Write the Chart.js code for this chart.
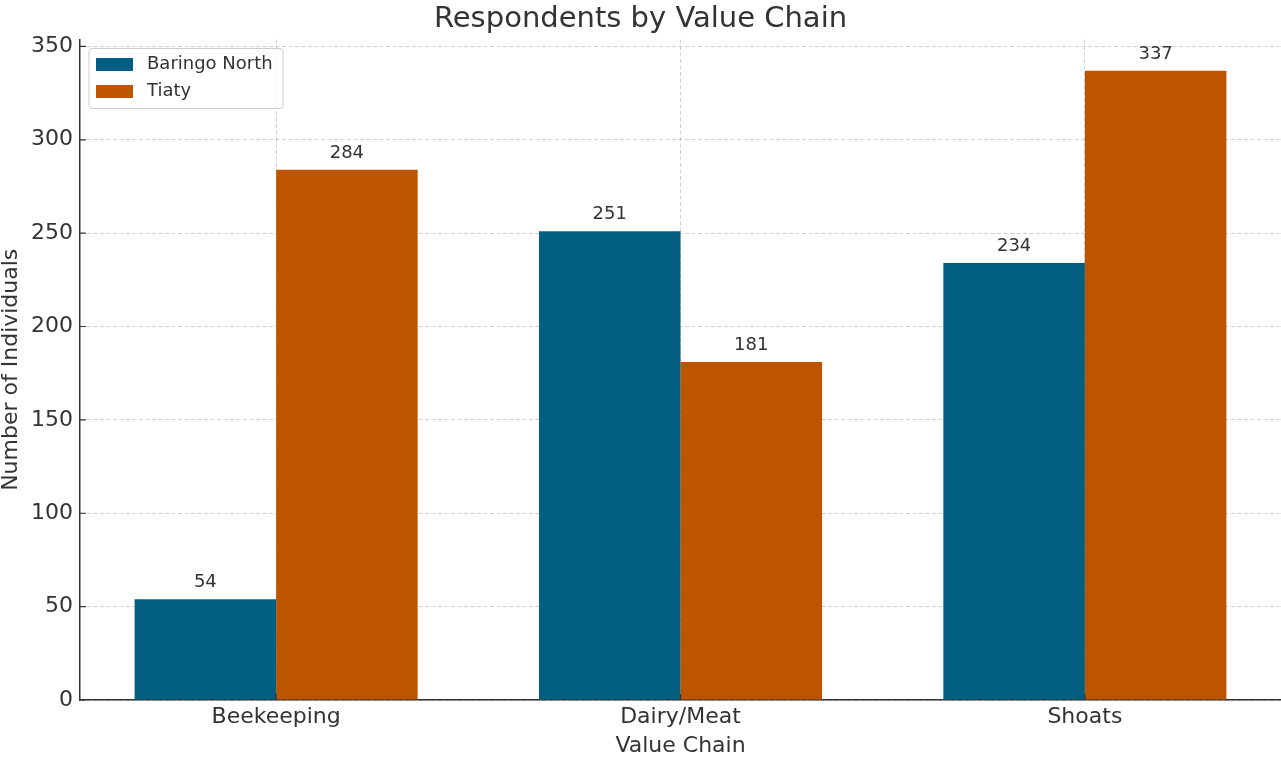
<!DOCTYPE html>
<html>
<head>
<meta charset="utf-8">
<script src="https://cdn.jsdelivr.net/npm/chart.js@4.4.1/dist/chart.umd.min.js"></script>
<style>
	html, body { margin: 0; padding: 0; background: #fff; }
	#wrap { width: 1281px; height: 759px; }
</style>
</head>
<body>
<div id="wrap"><canvas id="barChart" width="1281" height="759"></canvas></div>
<script>
var categories = ['Beekeeping', 'Dairy/Meat', 'Shoats']
var baringoNorth = [54, 251, 234]
var tiaty = [284, 181, 337]
var yTicks = [0, 50, 100, 150, 200, 250, 300, 350]

var blue = '#035F82'
var orange = '#BD5500'
var textColor = '#333333'
var font = 'DejaVu Sans'

const toPoints = function(values){
	return values.map((v, i) => ({x: i, y: v}))
}

// value printed above every bar
const barLabels = {
	id: 'barLabels',
	afterDatasetsDraw(chart){
		var ctx = chart.ctx
		ctx.save()
		ctx.font = '18px "' + font + '"'
		ctx.fillStyle = textColor
		ctx.textAlign = 'center'
		ctx.textBaseline = 'alphabetic'
		chart.data.datasets.forEach((ds, di) => {
			chart.getDatasetMeta(di).data.forEach((bar, i) => {
				ctx.fillText(String(ds.data[i].y), bar.x, bar.y - 12)
			})
		})
		ctx.restore()
	}
}

// short inward tick marks on both axes
const innerTicks = {
	id: 'innerTicks',
	afterDraw(chart){
		var ctx = chart.ctx
		var area = chart.chartArea
		var xs = chart.scales.x
		var ys = chart.scales.y
		ctx.save()
		ctx.strokeStyle = textColor
		ctx.lineWidth = 1.2
		ctx.beginPath()
		yTicks.forEach(v => {
			var y = ys.getPixelForValue(v)
			ctx.moveTo(area.left, y)
			ctx.lineTo(area.left + 6, y)
		})
		categories.forEach((c, i) => {
			var x = xs.getPixelForValue(i)
			ctx.moveTo(x, area.bottom)
			ctx.lineTo(x, area.bottom - 6)
		})
		ctx.stroke()
		ctx.restore()
	}
}

// framed legend in the upper left corner of the plot
const boxLegend = {
	id: 'boxLegend',
	afterDraw(chart){
		var ctx = chart.ctx
		var area = chart.chartArea
		var x0 = area.left + 9
		var y0 = area.top + 9
		ctx.save()
		ctx.beginPath()
		ctx.roundRect(x0, y0, 194, 60, 3)
		ctx.fillStyle = 'rgba(255,255,255,0.8)'
		ctx.fill()
		ctx.strokeStyle = '#cccccc'
		ctx.lineWidth = 1
		ctx.stroke()
		ctx.font = '18px "' + font + '"'
		ctx.textBaseline = 'middle'
		chart.data.datasets.forEach((ds, i) => {
			var cy = y0 + 16 + i * 27
			ctx.fillStyle = ds.backgroundColor
			ctx.fillRect(x0 + 7, cy - 6.5, 37, 13)
			ctx.fillStyle = textColor
			ctx.fillText(ds.label, x0 + 58, cy)
		})
		ctx.restore()
	}
}

new Chart(document.getElementById('barChart'), {
	type: 'bar',
	data: {
		datasets: [{
			label: 'Baringo North',
			data: toPoints(baringoNorth),
			backgroundColor: blue,
			borderWidth: 0
		},
		{
			label: 'Tiaty',
			data: toPoints(tiaty),
			backgroundColor: orange,
			borderWidth: 0
		}]
	},
	options: {
		responsive: false,
		animation: false,
		events: [],
		categoryPercentage: 0.7,
		barPercentage: 1.0,
		layout: { padding: { top: 0, right: 0, bottom: 0, left: 0 } },
		plugins: {
			legend: { display: false },
			tooltip: { enabled: false },
			title: {
				display: true,
				text: 'Respondents by Value Chain',
				color: textColor,
				font: { family: font, size: 29, weight: 'normal', lineHeight: 1.2 },
				padding: { top: 2, bottom: 2.7 }
			}
		},
		scales: {
			x: {
				type: 'linear',
				min: -0.485,
				max: 2.485,
				offset: false,
				z: 1,
				afterBuildTicks: axis => { axis.ticks = categories.map((c, i) => ({value: i})) },
				afterFit: axis => { axis.height = 59 },
				ticks: {
					color: textColor,
					font: { family: font, size: 22 },
					padding: 4,
					maxRotation: 0,
					callback: v => categories[v]
				},
				grid: {
					offset: false,
					color: 'rgba(176,176,176,0.6)',
					lineWidth: 1,
					drawTicks: false
				},
				border: { color: textColor, width: 1.5, dash: [4, 2.5] },
				title: {
					display: true,
					text: 'Value Chain',
					color: textColor,
					font: { family: font, size: 22, lineHeight: 1.2 },
					padding: 0
				}
			},
			y: {
				min: 0,
				max: 353.7,
				z: 1,
				afterBuildTicks: axis => { axis.ticks = yTicks.map(v => ({value: v})) },
				afterFit: axis => { axis.width = 80 },
				ticks: {
					color: textColor,
					font: { family: font, size: 22 },
					padding: 7
				},
				grid: {
					color: 'rgba(176,176,176,0.6)',
					lineWidth: 1,
					drawTicks: false
				},
				border: { color: textColor, width: 1.5, dash: [4, 2.5] },
				title: {
					display: true,
					text: 'Number of Individuals',
					color: textColor,
					font: { family: font, size: 22, lineHeight: 1.0 },
					padding: 0
				}
			}
		}
	},
	plugins: [barLabels, innerTicks, boxLegend]
})
</script>
</body>
</html>
